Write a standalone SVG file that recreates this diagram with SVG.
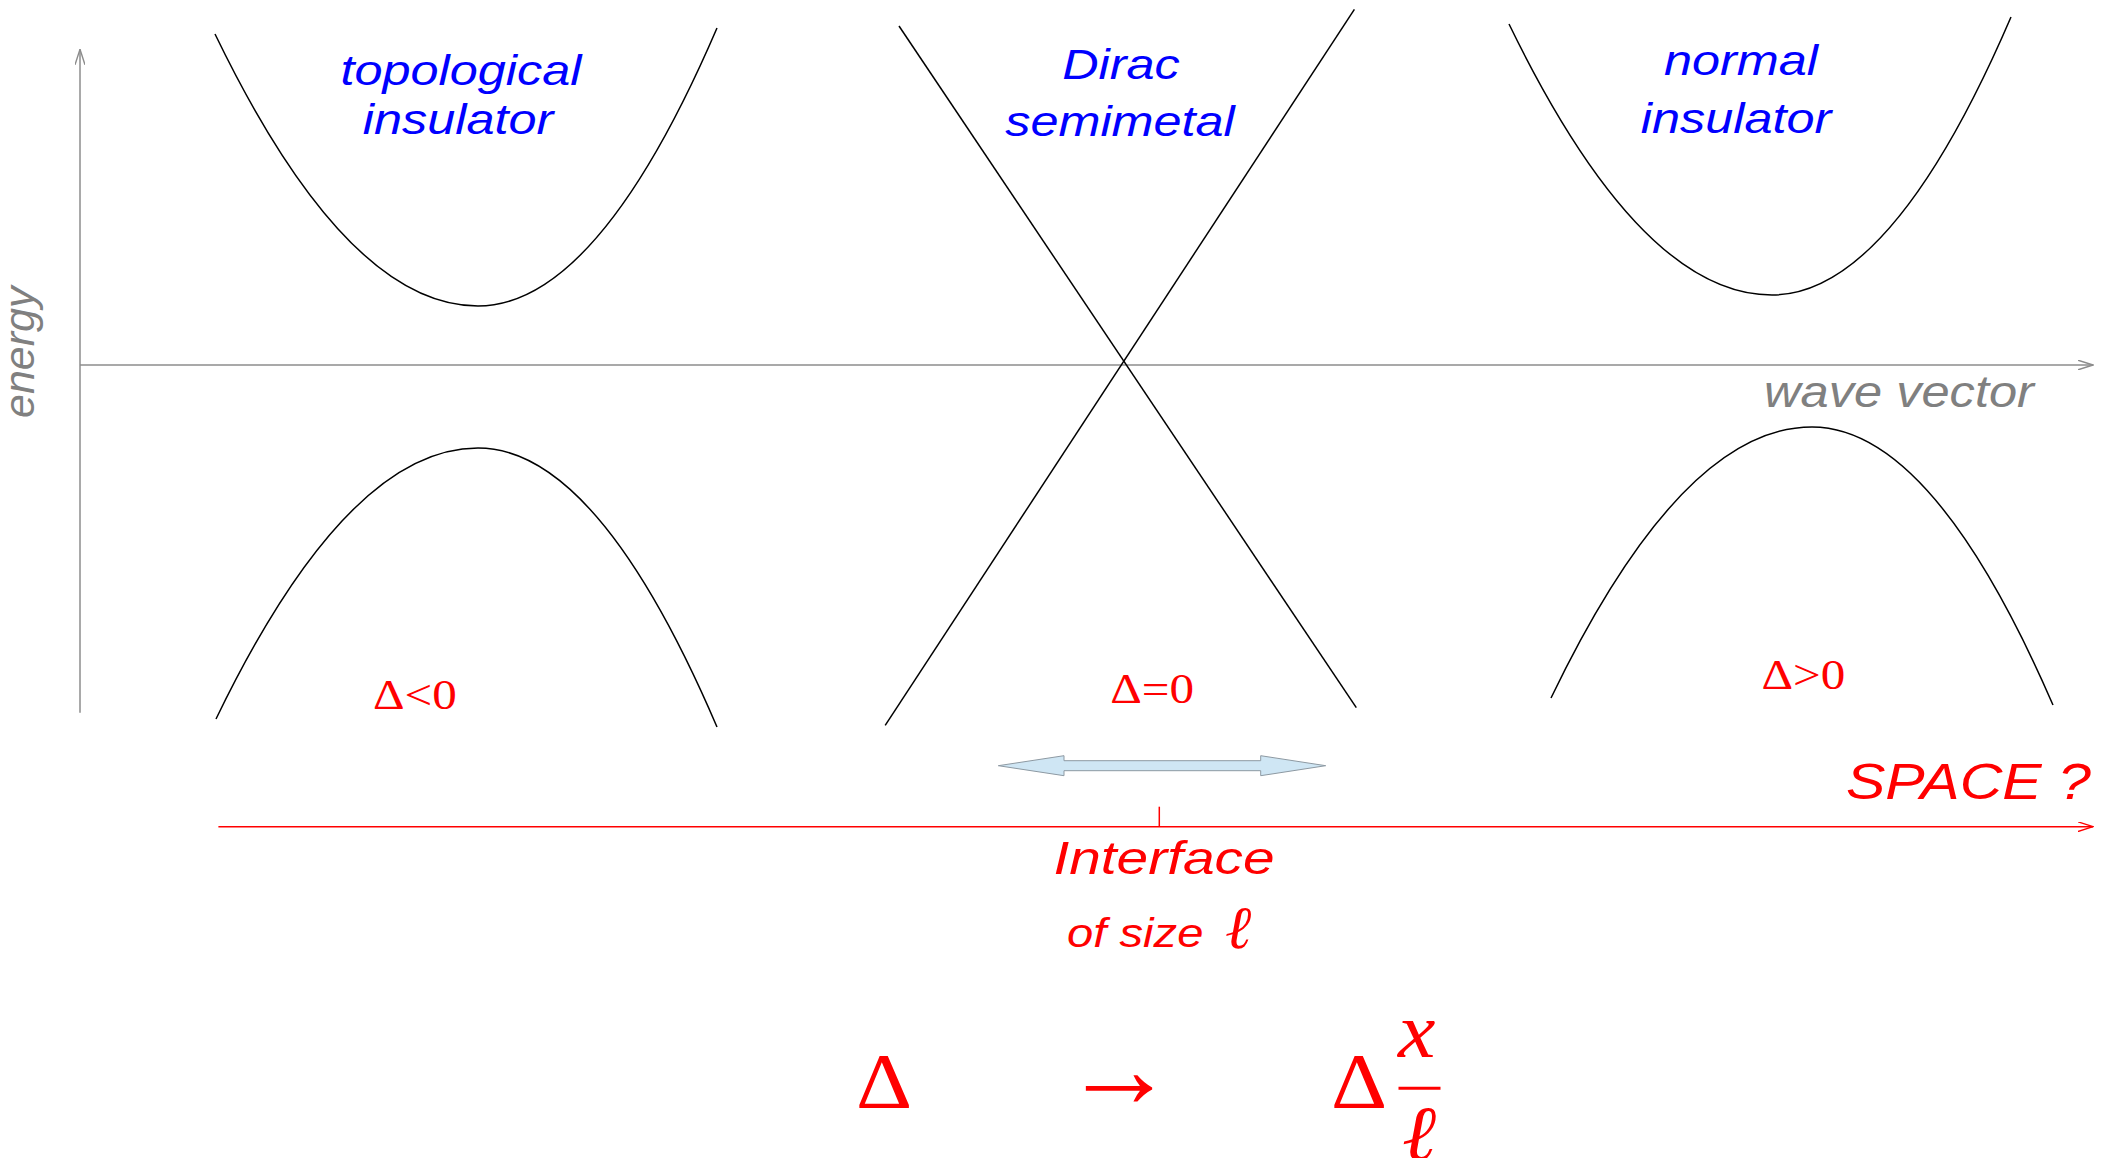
<svg xmlns="http://www.w3.org/2000/svg" width="2101" height="1158" viewBox="0 0 2101 1158">
  <style>
    .band { fill: none; stroke: #000; stroke-width: 1.5; }
    .axis { fill: none; stroke: #8c8c8c; stroke-width: 1.5; }
    .raxis { fill: none; stroke: #ff0000; stroke-width: 1.5; }
    .lbl { font-family: "Liberation Sans", Arial, sans-serif; font-style: italic; font-size: 42px; fill: #0000ff; text-anchor: middle; }
    .axlbl { font-family: "Liberation Sans", Arial, sans-serif; font-style: italic; fill: #808080; }
    .gap { font-family: "Liberation Serif", "Times New Roman", serif; font-size: 42px; fill: #ff0000; }
    .rtxt { font-family: "Liberation Sans", Arial, sans-serif; font-style: italic; fill: #ff0000; }
    .math { font-family: "Liberation Serif", "DejaVu Serif", serif; fill: #ff0000; }
  </style>
  <defs>
    <marker id="openGray" viewBox="0 0 16 10" refX="15.5" refY="5" markerWidth="16" markerHeight="10" markerUnits="userSpaceOnUse" orient="auto">
      <path d="M0,0 L15.5,5 L0,10" fill="none" stroke="#8c8c8c" stroke-width="1.4"/>
    </marker>
    <marker id="openRed" viewBox="0 0 16 10" refX="15.5" refY="5" markerWidth="16" markerHeight="10" markerUnits="userSpaceOnUse" orient="auto">
      <path d="M0,0 L15.5,5 L0,10" fill="none" stroke="#ff0000" stroke-width="1.4"/>
    </marker>
  </defs>
  <rect width="2101" height="1158" fill="#ffffff"/>

  <g id="connectors">
    <line id="energy-axis" class="axis" x1="80" y1="712.7" x2="80" y2="49.3" marker-end="url(#openGray)"/>
    <line id="wavevector-axis" class="axis" x1="80" y1="365" x2="2093" y2="365" marker-end="url(#openGray)"/>
    <line id="space-axis" class="raxis" x1="218.4" y1="826.7" x2="2093" y2="826.7" marker-end="url(#openRed)"/>
    <line id="interface-tick" class="raxis" x1="1159.3" y1="806.7" x2="1159.3" y2="826.7"/>
    <polygon id="interface-size-arrow" points="998.3,765.7 1064,755.7 1064,760.7 1260.7,760.7 1260.7,755.7 1325.7,765.7 1260.7,775.7 1260.7,770.7 1064,770.7 1064,775.7" fill="#cfe6f4" stroke="#8d99a2" stroke-width="1"/>
  </g>

  <g id="axis-labels">
    <text class="axlbl" font-size="43" transform="translate(34,418) rotate(-90)">energy</text>
    <text class="axlbl" font-size="44" transform="translate(1764,406.7) scale(1.15,1)">wave vector</text>
  </g>

  <g id="topological-insulator">
    <path class="band" d="M215,34 Q346.5,306 478,306 Q597.5,306 717,28"/>
    <path class="band" d="M216,719 Q347,448 478,448 Q597.5,448 717,727"/>
    <text class="lbl" transform="translate(461,85) scale(1.2,1)">topological</text>
    <text class="lbl" transform="translate(458,134.3) scale(1.2,1)">insulator</text>
    <text class="gap" transform="translate(373,709.3) scale(1.17,1)">Δ&lt;0</text>
  </g>

  <g id="dirac-semimetal">
    <line class="band" x1="899" y1="26" x2="1356.3" y2="707.7"/>
    <line class="band" x1="1354.4" y1="9.3" x2="885.2" y2="725.3"/>
    <text class="lbl" transform="translate(1121,79.3) scale(1.2,1)">Dirac</text>
    <text class="lbl" transform="translate(1120,136) scale(1.2,1)">semimetal</text>
    <text class="gap" transform="translate(1110.2,702.7) scale(1.17,1)">Δ=0</text>
  </g>

  <g id="normal-insulator">
    <path class="band" d="M1509,24 Q1640.5,295 1772,295 Q1891.5,295 2011,17"/>
    <path class="band" d="M1551,698 Q1681.5,427 1812,427 Q1932.5,427 2053,705"/>
    <text class="lbl" transform="translate(1741,75) scale(1.2,1)">normal</text>
    <text class="lbl" transform="translate(1736,133.3) scale(1.2,1)">insulator</text>
    <text class="gap" transform="translate(1761.4,689.3) scale(1.17,1)">Δ&gt;0</text>
  </g>

  <g id="space-labels">
    <text class="rtxt" font-size="50" transform="translate(1846,799.3) scale(1.18,1)">SPACE ?</text>
    <text class="rtxt" font-size="47" text-anchor="middle" transform="translate(1164,874.3) scale(1.21,1)">Interface</text>
    <text class="rtxt" font-size="40" transform="translate(1067,946.7) scale(1.18,1)">of size</text>
    <text class="math" font-size="60" font-style="italic" transform="translate(1225,948) scale(1.05,1)">ℓ</text>
  </g>

  <g id="formula">
    <text class="math" font-size="78" transform="translate(856,1107.3) scale(1.12,1)">Δ</text>
    <text class="math" font-size="112" transform="translate(1063,1107)">→</text>
    <text class="math" font-size="78" transform="translate(1331,1107.3) scale(1.12,1)">Δ</text>
    <text class="math" font-size="78" font-style="italic" transform="translate(1398,1057.3) scale(1.08,1)">x</text>
    <line x1="1398.5" y1="1088.3" x2="1440.5" y2="1088.3" stroke="#ff0000" stroke-width="3"/>
    <text class="math" font-size="78" font-style="italic" transform="translate(1402,1160) scale(1.05,1)">ℓ</text>
  </g>
</svg>
